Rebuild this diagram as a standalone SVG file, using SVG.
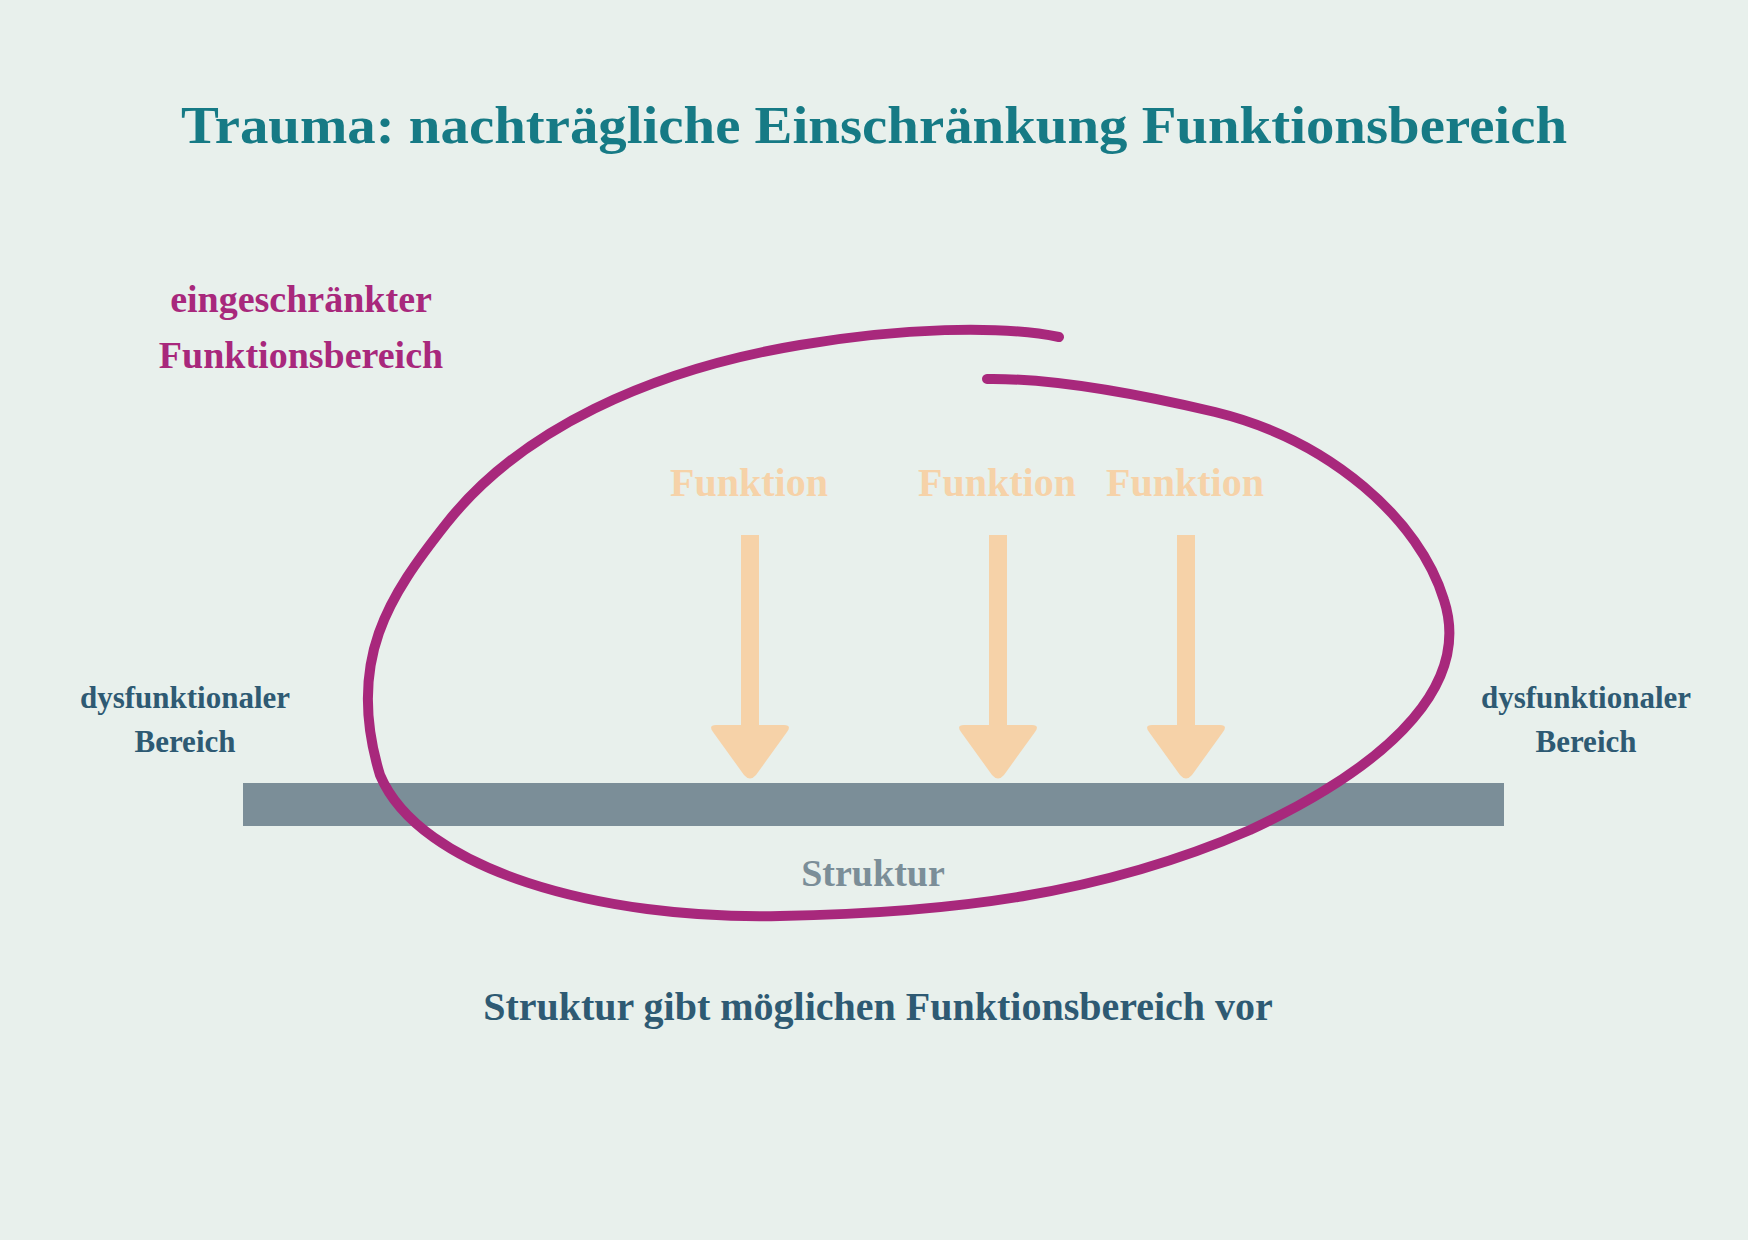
<svg xmlns="http://www.w3.org/2000/svg" width="1748" height="1240" viewBox="0 0 1748 1240">
<style>
text{font-family:"Liberation Serif","DejaVu Serif",serif;font-weight:bold;text-anchor:middle}
.fn{fill:#f6d2a8;font-size:40px}
.dys{fill:#2e5a73;font-size:31px}
.arr{fill:#f6d2a8}
</style>
<defs>
<g id="arrow"><rect x="-9" y="0" width="18" height="195"/><path d="M-34,190 L34,190 Q42,190 37,197 L6,240 Q0,247 -6,240 L-37,197 Q-42,190 -34,190Z"/></g>
</defs>
<rect width="1748" height="1240" fill="#e8f0ec"/>
<g id="title"><text x="874" y="143" font-size="52" fill="#167a85" textLength="1386" lengthAdjust="spacingAndGlyphs">Trauma: nachträgliche Einschränkung Funktionsbereich</text></g>
<g id="label-eingeschraenkt"><text x="301" y="312" font-size="38" fill="#a8287c">eingeschränkter</text><text x="301" y="368" font-size="38" fill="#a8287c">Funktionsbereich</text></g>
<g id="dys-left"><text class="dys" x="185" y="708">dysfunktionaler</text><text class="dys" x="185" y="752">Bereich</text></g>
<g id="dys-right"><text class="dys" x="1586" y="708">dysfunktionaler</text><text class="dys" x="1586" y="752">Bereich</text></g>
<g id="struktur"><rect x="243" y="783" width="1261" height="43" fill="#7b8e98"/><text x="873" y="886" font-size="38" fill="#7b8e98">Struktur</text></g>
<g id="funktion1"><text class="fn" x="749" y="496">Funktion</text><use href="#arrow" x="750" y="535" class="arr"/></g>
<g id="funktion2"><text class="fn" x="997" y="496">Funktion</text><use href="#arrow" x="998" y="535" class="arr"/></g>
<g id="funktion3"><text class="fn" x="1185" y="496">Funktion</text><use href="#arrow" x="1186" y="535" class="arr"/></g>
<g id="connectors"><path d="M1059,337 C1000,325 900,328 800,345 C650,370 520,430 446,524 C390,595 345,660 380,775 C420,870 600,920 780,916 C950,913 1100,895 1250,830 C1400,760 1470,680 1444,600 C1420,520 1330,440 1215,412 C1130,392 1050,378 987,379" fill="none" stroke="#a8287c" stroke-width="10" stroke-linecap="round"/></g>
<g id="caption"><text x="878" y="1020" font-size="40" fill="#2e5a73">Struktur gibt möglichen Funktionsbereich vor</text></g>
</svg>
